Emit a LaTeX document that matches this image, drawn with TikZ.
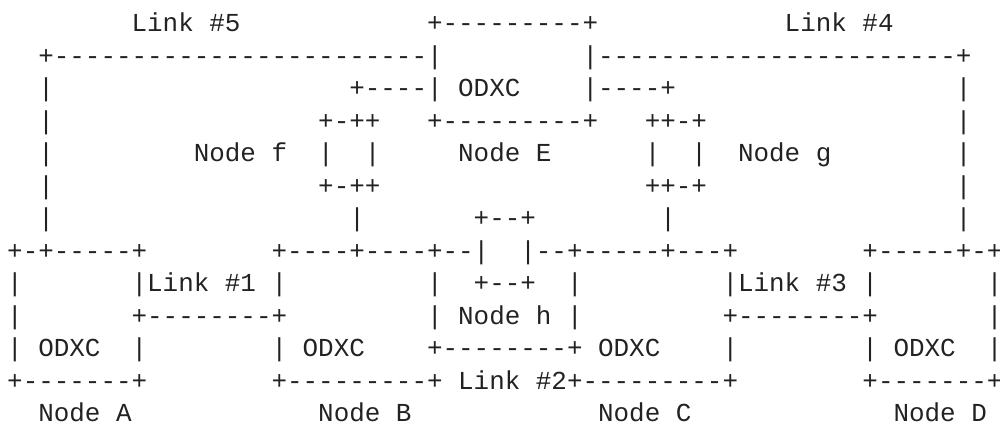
\documentclass[tikz,border=0pt]{standalone}
\usepackage{fontspec}
\setmonofont{Liberation Mono}
\definecolor{ink}{HTML}{222222}
\tikzset{asc/.style={anchor=base west, inner sep=0pt, outer sep=0pt, text=ink,
  font=\ttfamily\fontsize{12.96pt}{14pt}\selectfont}}
\newcommand\asctxt[3]{\node[asc] (r#1c#2) at ({7.2+15.55*#2},{31.7+32.5*(#1-1)}) {#3};}
\begin{document}
\begin{tikzpicture}[x=0.5pt,y=-0.5pt]
\useasboundingbox (0,0) rectangle (1000,426);
% row 1
\asctxt{1}{8}{Link \#5}
\asctxt{1}{27}{+---------+}
\asctxt{1}{50}{Link \#4}
% row 2
\asctxt{2}{2}{+------------------------|}
\asctxt{2}{37}{|-----------------------+}
% row 3
\asctxt{3}{2}{|}
\asctxt{3}{22}{+----|}
\asctxt{3}{29}{ODXC}
\asctxt{3}{37}{|----+}
\asctxt{3}{61}{|}
% row 4
\asctxt{4}{2}{|}
\asctxt{4}{20}{+-++}
\asctxt{4}{27}{+---------+}
\asctxt{4}{41}{++-+}
\asctxt{4}{61}{|}
% row 5
\asctxt{5}{2}{|}
\asctxt{5}{12}{Node f}
\asctxt{5}{20}{|}
\asctxt{5}{23}{|}
\asctxt{5}{29}{Node E}
\asctxt{5}{41}{|}
\asctxt{5}{44}{|}
\asctxt{5}{47}{Node g}
\asctxt{5}{61}{|}
% row 6
\asctxt{6}{2}{|}
\asctxt{6}{20}{+-++}
\asctxt{6}{41}{++-+}
\asctxt{6}{61}{|}
% row 7
\asctxt{7}{2}{|}
\asctxt{7}{22}{|}
\asctxt{7}{30}{+--+}
\asctxt{7}{42}{|}
\asctxt{7}{61}{|}
% row 8
\asctxt{8}{0}{+-+-----+}
\asctxt{8}{17}{+----+----+--|}
\asctxt{8}{33}{|--+-----+---+}
\asctxt{8}{55}{+-----+-+}
% row 9
\asctxt{9}{0}{|}
\asctxt{9}{8}{|Link \#1}
\asctxt{9}{17}{|}
\asctxt{9}{27}{|}
\asctxt{9}{30}{+--+}
\asctxt{9}{36}{|}
\asctxt{9}{46}{|Link \#3}
\asctxt{9}{55}{|}
\asctxt{9}{63}{|}
% row 10
\asctxt{10}{0}{|}
\asctxt{10}{8}{+--------+}
\asctxt{10}{27}{|}
\asctxt{10}{29}{Node h}
\asctxt{10}{36}{|}
\asctxt{10}{46}{+--------+}
\asctxt{10}{63}{|}
% row 11
\asctxt{11}{0}{|}
\asctxt{11}{2}{ODXC}
\asctxt{11}{8}{|}
\asctxt{11}{17}{|}
\asctxt{11}{19}{ODXC}
\asctxt{11}{27}{+--------+}
\asctxt{11}{38}{ODXC}
\asctxt{11}{46}{|}
\asctxt{11}{55}{|}
\asctxt{11}{57}{ODXC}
\asctxt{11}{63}{|}
% row 12
\asctxt{12}{0}{+-------+}
\asctxt{12}{17}{+---------+}
\asctxt{12}{29}{Link \#2+---------+}
\asctxt{12}{55}{+-------+}
% row 13
\asctxt{13}{2}{Node A}
\asctxt{13}{20}{Node B}
\asctxt{13}{38}{Node C}
\asctxt{13}{57}{Node D}
\end{tikzpicture}
\end{document}
